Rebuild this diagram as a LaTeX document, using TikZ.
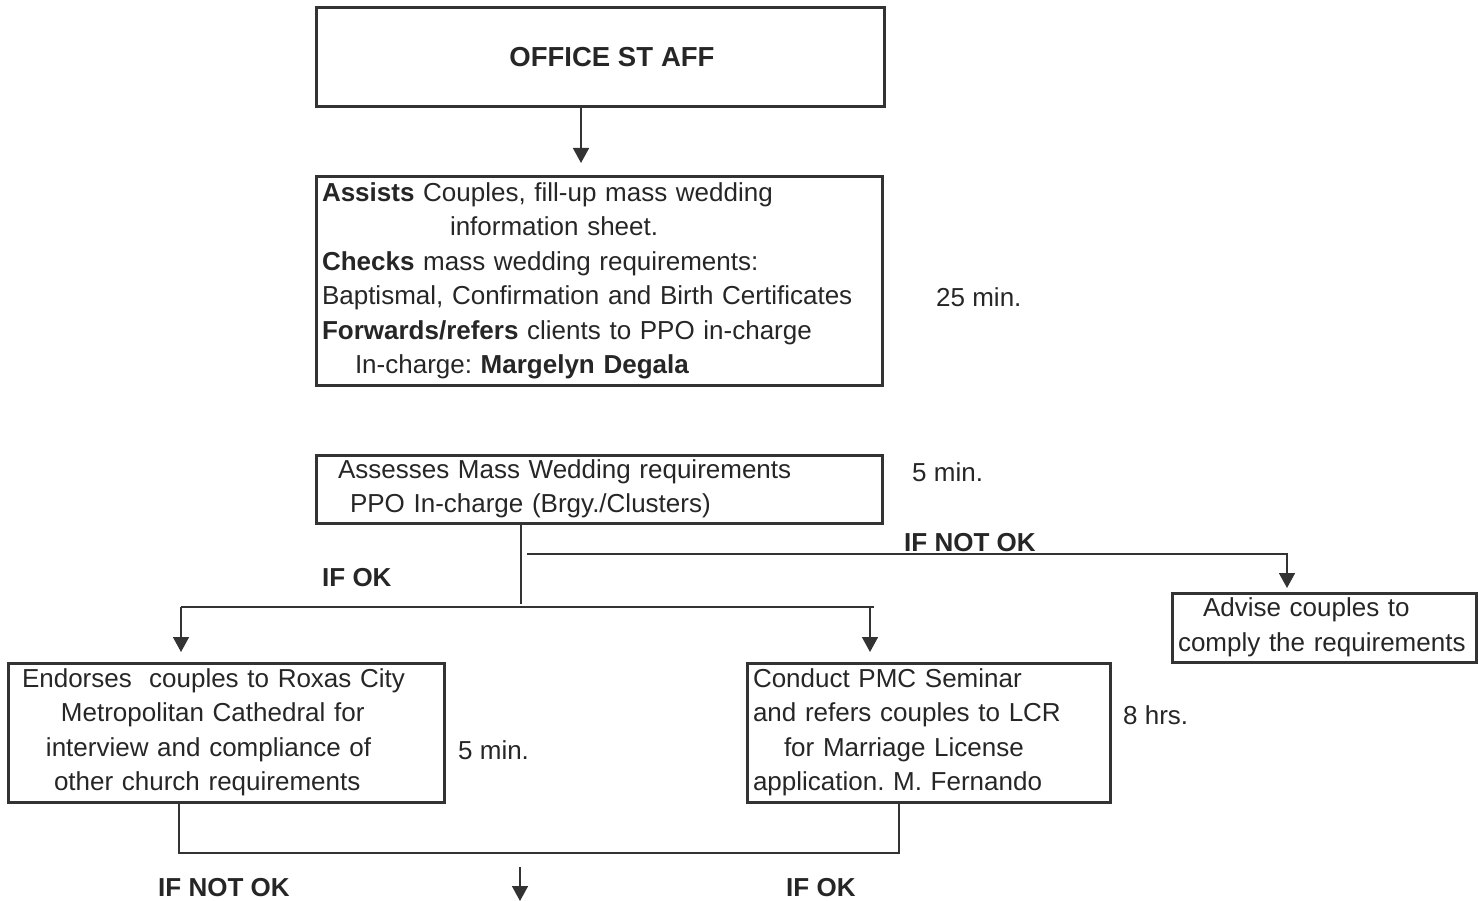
\documentclass[tikz,border=0pt]{standalone}
\usepackage{fontspec}
\setmainfont{Liberation Sans}
\usetikzlibrary{arrows.meta}
\definecolor{lc}{HTML}{333333}
\definecolor{tc}{HTML}{262626}
\newcommand\fsz{\fontsize{26}{34.5}\selectfont}
\frenchspacing
\begin{document}
\begin{tikzpicture}[x=1pt,y=-1pt,
  box/.style={draw=lc, line width=3pt, inner xsep=6pt, inner ysep=0pt, text=tc, font=\fsz, align=left},
  conn/.style={draw=lc, line width=1.6pt},
  arr/.style={conn, -{Triangle[width=16pt,length=15pt]}},
  lbl/.style={text=tc, font=\fsz\bfseries, inner sep=0pt, anchor=base west},
  tm/.style={text=tc, font=\fsz, inner sep=0pt, anchor=base west}]
\useasboundingbox (0,0) rectangle (1478,901);

% boxes
\node[box, minimum width=568pt, minimum height=99pt, align=center, font=\fontsize{27.5}{32}\selectfont\bfseries] (staff) at (600,57.5)
  {\hspace*{24pt}OFFICE ST\kern8pt AFF};
\node[box, minimum width=566pt, minimum height=208pt, text width=554pt] (assist) at (599,281)
  {\textbf{Assists} Couples, fill-up mass wedding\\
   \hspace*{128pt}information sheet.\\
   \textbf{Checks} mass wedding requirements:\\
   Baptismal, Confirmation and Birth Certificates\\
   \textbf{Forwards/refers} clients to PPO in-charge\\
   \hspace*{33pt}In-charge: \textbf{Margelyn Degala}};
\node[box, minimum width=566pt, minimum height=68pt, text width=554pt] (assess) at (599,489)
  {\hspace*{16pt}Assesses Mass Wedding requirements\\
   \hspace*{28pt}PPO In-charge (Brgy./Clusters)};
\node[box, minimum width=304pt, minimum height=69pt, text width=292pt] (advise) at (1324,627.5)
  {\hspace*{25pt}Advise couples to\\
   comply the requirements};
\node[box, minimum width=436pt, minimum height=139pt, text width=424pt] (endorse) at (226,732.5)
  {\hspace*{8pt}Endorses\ \ couples to Roxas City\\
   \hspace*{47pt}Metropolitan Cathedral for\\
   \hspace*{32pt}interview and compliance of\\
   \hspace*{40pt}other church requirements};
\node[box, minimum width=363pt, minimum height=139pt, text width=351pt] (pmc) at (928.5,732.5)
  {Conduct PMC Seminar\\
   and refers couples to LCR\\
   \hspace*{31pt}for Marriage License\\
   application. M. Fernando};

% times
\node[tm] (t1) at (936,307) {25 min.};
\node[tm] (t2) at (912,481) {5 min.};
\node[tm] (t3) at (458,759) {5 min.};
\node[tm] (t4) at (1123,724) {8 hrs.};

% labels
\node[lbl] (notok1) at (904,551) {IF NOT OK};
\node[lbl] (ok1) at (322,586) {IF OK};
\node[lbl] (notok2) at (158,896) {IF NOT OK};
\node[lbl] (ok2) at (786,896) {IF OK};

% coordinates
\coordinate (a1) at (581,163);
\coordinate (j1) at (521,604);
\coordinate (n1) at (527,554);
\coordinate (n2) at (1287,588);
\coordinate (sl) at (181,607);
\coordinate (sr) at (874,607);
\coordinate (al) at (181,652);
\coordinate (ar) at (870,652);
\coordinate (bl) at (179,853);
\coordinate (br) at (899,853);
\coordinate (d1) at (520,867);
\coordinate (d2) at (520,901);

% connectors
\draw[arr] (a1 |- staff.south) -- (a1);
\draw[conn] (j1 |- assess.south) -- (j1);
\draw[arr] (n1) -- (n1 -| n2) -- (n2);
\draw[conn] (sl) -- (sr);
\draw[arr] (sl) -- (al);
\draw[arr] (ar |- sr) -- (ar);
\draw[conn] (bl |- endorse.south) -- (bl) -- (br) -- (br |- pmc.south);
\draw[arr] (d1) -- (d2);
\end{tikzpicture}
\end{document}
